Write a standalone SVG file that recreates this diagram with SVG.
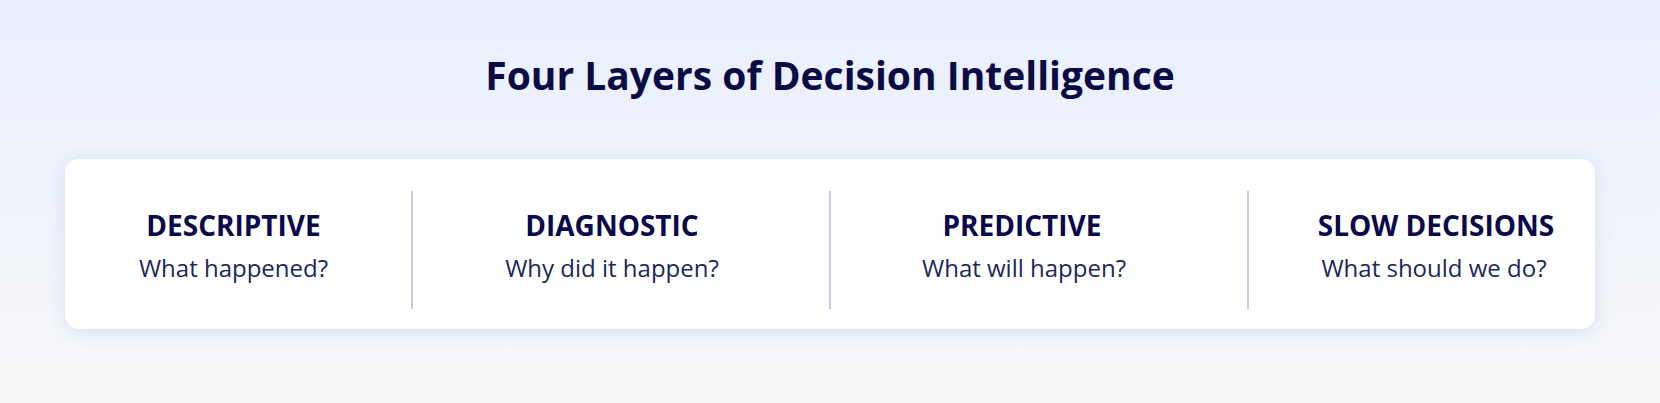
<svg xmlns="http://www.w3.org/2000/svg" width="1660" height="403" viewBox="0 0 1660 403">
  <defs>
    <linearGradient id="bg" x1="0" y1="0" x2="0" y2="1">
      <stop offset="0" stop-color="#e8effd"/>
      <stop offset="1" stop-color="#f8f8f9"/>
    </linearGradient>
    <filter id="shadow" x="-5%" y="-30%" width="110%" height="160%">
      <feDropShadow dx="0" dy="3" stdDeviation="8" flood-color="#4a6ad0" flood-opacity="0.18"/>
    </filter>
    <style>
      .title { font-family: "Open Sans", "Noto Sans", sans-serif; font-weight: 700; font-size: 39px; fill: #0b0b45; text-anchor: middle; }
      .head { font-family: "Open Sans", "Noto Sans", sans-serif; font-weight: 700; font-size: 28px; fill: #0a0a4a; text-anchor: middle; }
      .sub { font-family: "Open Sans", "Noto Sans", sans-serif; font-weight: 400; font-size: 24px; fill: #1b2858; text-anchor: middle; }
      .div { stroke: #c3cde3; stroke-width: 2; }
    </style>
  </defs>
  <rect x="0" y="0" width="1660" height="403" fill="url(#bg)"/>
  <text class="title" x="830" y="89.5">Four Layers of Decision Intelligence</text>
  <g id="card">
    <rect x="65" y="159" width="1530" height="170" rx="14" ry="14" fill="#ffffff" filter="url(#shadow)"/>
  </g>
  <g id="connectors">
    <line class="div" x1="412" y1="191" x2="412" y2="309"/>
    <line class="div" x1="830" y1="191" x2="830" y2="309"/>
    <line class="div" x1="1248" y1="191" x2="1248" y2="309"/>
  </g>
  <g id="descriptive">
    <text class="head" x="233.5" y="235.5">DESCRIPTIVE</text>
    <text class="sub" x="233.5" y="276.5">What happened?</text>
  </g>
  <g id="diagnostic">
    <text class="head" x="612" y="235.5">DIAGNOSTIC</text>
    <text class="sub" x="612" y="276.5">Why did it happen?</text>
  </g>
  <g id="predictive">
    <text class="head" x="1022" y="235.5">PREDICTIVE</text>
    <text class="sub" x="1024" y="276.5">What will happen?</text>
  </g>
  <g id="slow-decisions">
    <text class="head" x="1436" y="235.5">SLOW DECISIONS</text>
    <text class="sub" x="1434" y="276.5">What should we do?</text>
  </g>
</svg>
